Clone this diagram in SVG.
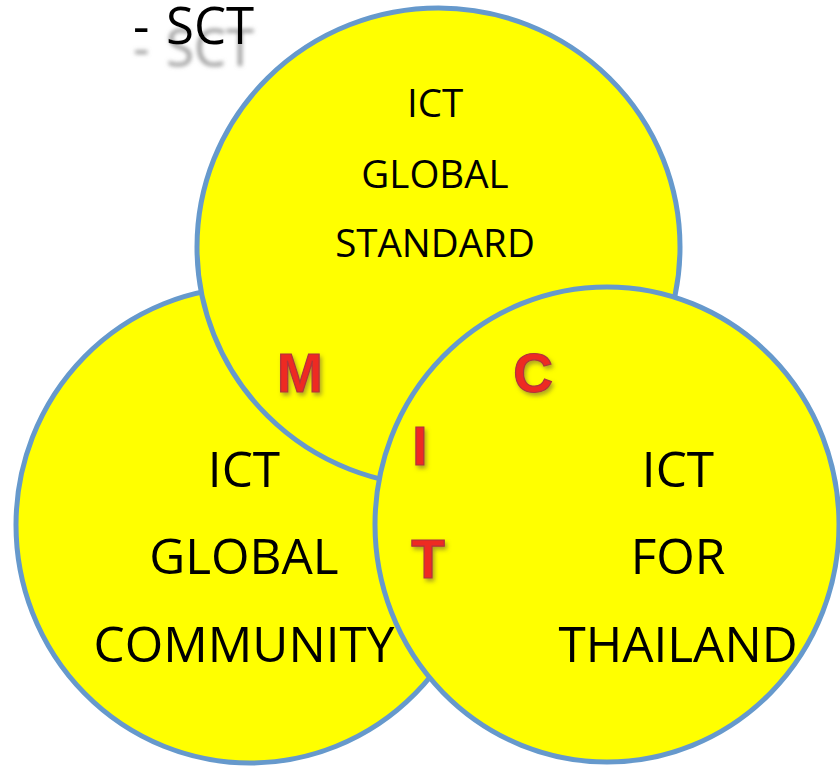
<svg xmlns="http://www.w3.org/2000/svg" width="840" height="767" viewBox="0 0 840 767">
  <style>
    .circle { fill: #FFFF00; stroke: #6699CC; stroke-width: 5; }
    .lbl { font-family: "Open Sans", "Noto Sans", sans-serif; fill: #000; text-anchor: middle; }
    .big { font-size: 49.5px; }
    .small { font-size: 38.5px; }
    .red { font-family: "Liberation Sans", Arial, sans-serif; font-weight: bold; font-size: 55px; fill: #EE2A24; stroke: #B0343C; stroke-width: 1.2; text-anchor: middle; filter: url(#shadow); }
    .title { font-family: "Open Sans", "Noto Sans", sans-serif; font-size: 51px; fill: #000; }
  </style>
  <defs>
    <filter id="shadow" x="-30%" y="-30%" width="160%" height="160%">
      <feDropShadow dx="2" dy="3" stdDeviation="2" flood-color="#7a6a30" flood-opacity="0.6"/>
    </filter>
    <filter id="reflect" x="-10%" y="-20%" width="120%" height="200%">
      <feOffset in="SourceAlpha" dx="0" dy="22" result="off"/>
      <feGaussianBlur in="off" stdDeviation="2" result="blur"/>
      <feFlood flood-color="#8a8a8a" flood-opacity="0.85"/>
      <feComposite in2="blur" operator="in" result="shadow"/>
      <feMerge>
        <feMergeNode in="shadow"/>
        <feMergeNode in="SourceGraphic"/>
      </feMerge>
    </filter>
  </defs>

  <g id="title" filter="url(#reflect)">
    <text class="title" x="133" y="44">-</text>
    <text class="title" x="166" y="44">SCT</text>
  </g>

  <g id="node-community">
    <ellipse class="circle" cx="250" cy="525" rx="234" ry="238"/>
  </g>
  <g id="node-standard">
    <ellipse class="circle" cx="438.5" cy="247" rx="241.5" ry="239"/>
  </g>
  <g id="node-thailand">
    <ellipse class="circle" cx="607" cy="524.5" rx="232" ry="237.5"/>
  </g>

  <g id="labels-standard">
    <text class="lbl small" x="435" y="117">ICT</text>
    <text class="lbl small" x="435" y="188">GLOBAL</text>
    <text class="lbl small" x="435" y="257">STANDARD</text>
  </g>
  <g id="labels-community">
    <text class="lbl big" x="244" y="487">ICT</text>
    <text class="lbl big" x="244" y="574">GLOBAL</text>
    <text class="lbl big" x="244" y="662">COMMUNITY</text>
  </g>
  <g id="labels-thailand">
    <text class="lbl big" x="678" y="487">ICT</text>
    <text class="lbl big" x="678" y="574">FOR</text>
    <text class="lbl big" x="678" y="662">THAILAND</text>
  </g>

  <g id="mict">
    <text class="red" x="300" y="392">M</text>
    <text class="red" x="533" y="392">C</text>
    <text class="red" x="420" y="465">I</text>
    <text class="red" x="428" y="578">T</text>
  </g>

  <g id="connectors"></g>
</svg>
